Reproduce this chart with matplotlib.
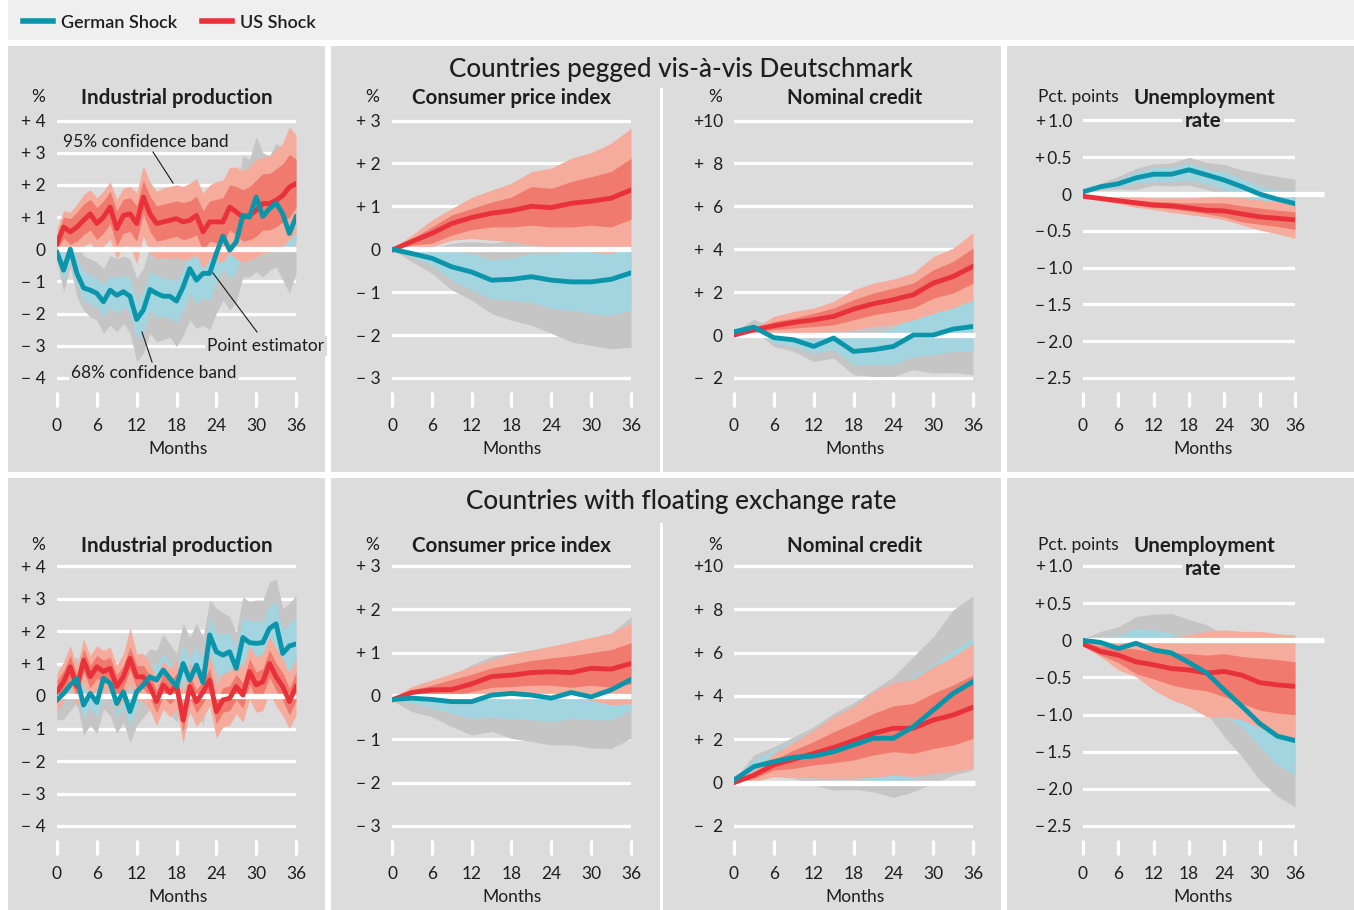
import matplotlib
matplotlib.use("Agg")
import matplotlib.pyplot as plt
from matplotlib.patches import Rectangle
from matplotlib.lines import Line2D

# ---------------- data ----------------
months_m = list(range(37))          # monthly sampling (industrial production)
months_q = list(range(0, 37, 3))    # every third month (smooth series)
xticks = [0, 6, 12, 18, 24, 30, 36]

# --- Pegged: Industrial production ---
de_ip_peg = [-0.1,-0.65,0.0,-0.75,-1.2,-1.27,-1.37,-1.63,-1.27,-1.43,-1.32,-1.46,-2.18,-1.89,-1.25,-1.37,-1.46,-1.46,-1.61,-1.17,-0.6,-0.96,-0.75,-0.75,-0.13,0.41,-0.03,0.23,1.05,1.0,1.62,1.02,1.26,1.44,1.1,0.49,1.0]
de_ip_peg_68hi = [0.3,-0.2,0.4,-0.3,-0.7,-0.8,-0.9,-1.1,-0.8,-0.9,-0.8,-0.9,-1.6,-1.3,-0.7,-0.8,-0.9,-0.9,-1.0,-0.6,0.0,-0.3,-0.1,-0.1,0.6,1.1,0.7,1.0,1.8,1.7,2.4,1.8,2.0,2.2,1.9,1.3,1.8]
de_ip_peg_68lo = [-0.3,-1.0,-0.3,-1.1,-1.6,-1.7,-1.8,-2.1,-1.8,-2.0,-1.8,-2.0,-2.8,-2.6,-1.9,-2.1,-2.1,-2.1,-2.3,-1.9,-1.4,-1.7,-1.5,-1.6,-1.0,-0.6,-0.9,-0.7,0.1,0.1,0.5,0.1,0.3,0.4,0.2,-0.1,0.3]
de_ip_peg_95hi = [0.4,0.3,0.8,0.2,-0.2,-0.3,-0.4,-0.6,-0.2,-0.3,-0.2,-0.3,-0.9,-0.6,0.1,0.0,-0.1,-0.1,-0.2,0.3,1.0,0.6,0.9,0.9,1.5,2.0,1.6,1.9,2.9,2.8,3.5,3.0,2.9,3.3,3.1,2.4,2.8]
de_ip_peg_95lo = [-0.4,-1.32,-0.55,-1.48,-1.89,-2.1,-2.2,-2.61,-2.36,-2.56,-2.3,-2.61,-3.49,-3.23,-2.61,-2.87,-2.82,-2.72,-3.03,-2.67,-2.2,-2.46,-2.36,-2.51,-1.99,-1.58,-1.89,-1.63,-0.86,-0.86,-0.7,-0.86,-0.65,-0.55,-0.96,-1.37,-0.75]
us_ip_peg = [0.18,0.69,0.54,0.69,0.9,1.1,0.8,1.0,1.31,0.64,1.05,1.1,0.8,1.62,1.1,0.8,0.85,0.9,0.95,0.85,0.9,1.05,0.54,0.85,0.85,0.85,1.31,1.16,1.0,1.05,1.21,1.42,1.42,1.52,1.67,1.93,2.04]
us_ip_peg_68hi = [0.45,1.0,0.95,1.15,1.4,1.55,1.3,1.5,1.8,1.2,1.55,1.6,1.35,2.15,1.65,1.35,1.4,1.45,1.5,1.45,1.5,1.65,1.2,1.5,1.55,1.6,2.0,1.95,1.85,1.95,2.15,2.35,2.35,2.5,2.65,2.95,2.8]
us_ip_peg_68lo = [0.0,0.35,0.15,0.25,0.45,0.6,0.3,0.5,0.8,0.1,0.5,0.55,0.25,1.1,0.55,0.25,0.3,0.35,0.4,0.3,0.35,0.45,-0.05,0.25,0.2,0.2,0.6,0.45,0.25,0.3,0.4,0.6,0.6,0.7,0.85,1.0,1.3]
us_ip_peg_95hi = [0.65,1.2,1.15,1.4,1.7,1.85,1.6,1.8,2.1,1.55,1.9,1.95,1.75,2.6,2.1,1.8,1.9,1.95,2.0,1.95,2.05,2.2,1.75,2.0,2.1,2.15,2.55,2.55,2.45,2.55,2.8,2.85,2.9,3.1,3.3,3.8,3.55]
us_ip_peg_95lo = [-0.15,0.1,-0.1,0.0,0.1,0.2,-0.1,0.1,0.3,-0.3,0.1,0.1,-0.45,0.4,-0.1,-0.3,-0.25,-0.3,-0.25,-0.35,-0.3,-0.15,-0.6,-0.3,-0.35,-0.4,-0.1,-0.3,-0.4,-0.35,-0.25,-0.1,-0.1,0.0,0.1,0.3,0.5]

# --- Pegged: Consumer price index ---
de_cpi_peg = [0.0,-0.1,-0.21,-0.41,-0.53,-0.72,-0.7,-0.64,-0.72,-0.76,-0.76,-0.7,-0.55]
de_cpi_peg_68hi = [0.0,-0.02,-0.05,-0.06,-0.1,-0.25,-0.21,-0.1,-0.1,-0.06,-0.05,-0.05,0.06]
de_cpi_peg_68lo = [0.0,-0.18,-0.37,-0.72,-0.95,-1.15,-1.19,-1.23,-1.38,-1.42,-1.5,-1.54,-1.42]
de_cpi_peg_95hi = [0.0,0.0,0.02,0.14,0.18,0.14,0.21,0.1,0.08,0.06,0.05,0.05,0.1]
de_cpi_peg_95lo = [0.0,-0.29,-0.56,-0.95,-1.19,-1.5,-1.65,-1.77,-1.96,-2.16,-2.24,-2.32,-2.28]
us_cpi_peg = [-0.02,0.18,0.37,0.6,0.74,0.84,0.9,1.0,0.97,1.07,1.12,1.19,1.38]
us_cpi_peg_68hi = [0.0,0.25,0.52,0.8,0.95,1.1,1.22,1.46,1.42,1.58,1.69,1.81,2.12]
us_cpi_peg_68lo = [-0.04,0.1,0.14,0.33,0.46,0.52,0.52,0.56,0.52,0.52,0.56,0.52,0.7]
us_cpi_peg_95hi = [0.02,0.33,0.68,0.95,1.21,1.38,1.54,1.81,1.89,2.12,2.25,2.47,2.82]
us_cpi_peg_95lo = [-0.06,0.06,0.06,0.21,0.25,0.21,0.18,0.1,0.06,0.02,-0.06,-0.1,0.06]

# --- Pegged: Nominal credit ---
de_cr_peg = [0.15,0.37,-0.12,-0.22,-0.53,-0.14,-0.76,-0.68,-0.53,0.0,0.0,0.28,0.4]
de_cr_peg_68hi = [0.15,0.45,0.1,0.0,-0.2,0.05,-0.1,0.1,0.3,0.95,1.1,1.3,1.6]
de_cr_peg_68lo = [0.12,0.3,-0.37,-0.53,-0.84,-0.68,-1.38,-1.38,-1.38,-1.0,-0.92,-0.76,-0.76]
de_cr_peg_95hi = [0.15,0.75,0.3,0.3,0.2,0.4,0.3,0.4,0.56,1.02,1.18,1.4,1.72]
de_cr_peg_95lo = [0.1,0.25,-0.53,-0.76,-1.23,-1.07,-1.85,-1.93,-1.93,-1.61,-1.77,-1.74,-1.85]
us_cr_peg = [0.0,0.25,0.43,0.59,0.71,0.87,1.21,1.46,1.65,1.88,2.42,2.73,3.2]
us_cr_peg_68hi = [0.02,0.3,0.64,0.79,1.02,1.26,1.65,1.96,2.19,2.42,3.04,3.43,4.05]
us_cr_peg_68lo = [-0.02,0.15,0.25,0.33,0.4,0.48,0.71,0.95,1.1,1.26,1.72,1.96,2.42]
us_cr_peg_95hi = [0.02,0.33,0.87,1.1,1.26,1.57,2.11,2.42,2.61,2.89,3.66,4.05,4.78]
us_cr_peg_95lo = [-0.05,-0.1,0.1,0.1,0.12,0.17,0.25,0.4,0.48,0.71,1.02,1.26,1.65]

# --- Pegged: Unemployment rate ---
de_un_peg = [0.03,0.1,0.14,0.22,0.27,0.27,0.33,0.26,0.19,0.1,0.0,-0.07,-0.13]
de_un_peg_68hi = [0.03,0.12,0.19,0.3,0.36,0.36,0.42,0.34,0.3,0.21,0.11,0.06,0.03]
de_un_peg_68lo = [0.03,0.07,0.1,0.15,0.17,0.17,0.19,0.15,0.06,-0.03,-0.1,-0.15,-0.19]
de_un_peg_95hi = [0.03,0.15,0.24,0.35,0.41,0.42,0.5,0.43,0.4,0.33,0.28,0.24,0.2]
de_un_peg_95lo = [0.03,0.05,0.07,0.06,0.12,0.11,0.12,0.06,-0.01,-0.08,-0.15,-0.2,-0.24]
us_un_peg = [-0.03,-0.06,-0.09,-0.12,-0.15,-0.16,-0.19,-0.22,-0.23,-0.27,-0.31,-0.33,-0.35]
us_un_peg_68hi = [-0.01,-0.03,-0.06,-0.08,-0.1,-0.11,-0.12,-0.12,-0.12,-0.16,-0.19,-0.22,-0.24]
us_un_peg_68lo = [-0.04,-0.08,-0.11,-0.15,-0.18,-0.2,-0.23,-0.27,-0.31,-0.38,-0.41,-0.44,-0.48]
us_un_peg_95hi = [0.0,-0.01,-0.03,-0.04,-0.05,-0.05,-0.05,-0.04,-0.03,-0.05,-0.08,-0.1,-0.13]
us_un_peg_95lo = [-0.05,-0.09,-0.13,-0.18,-0.21,-0.25,-0.28,-0.31,-0.35,-0.42,-0.49,-0.54,-0.6]

# --- Floating: Industrial production ---
de_ip_flt = [-0.12,0.08,0.34,0.54,-0.28,0.08,-0.2,0.54,0.39,-0.23,0.13,-0.48,0.13,0.34,0.59,0.49,0.8,0.54,0.29,1.0,0.49,0.95,0.41,1.88,1.36,1.26,1.36,0.85,1.8,1.64,1.62,1.64,2.08,2.22,1.31,1.54,1.6]
de_ip_flt_68hi = [0.15,0.4,0.7,0.9,0.15,0.45,0.2,0.9,0.8,0.15,0.5,0.0,0.5,0.75,1.0,0.95,1.3,1.05,0.8,1.6,1.1,1.55,1.05,2.45,1.95,1.9,1.95,1.45,2.45,2.3,2.3,2.3,2.8,2.9,2.0,2.25,2.4]
de_ip_flt_68lo = [-0.4,-0.3,0.0,0.2,-0.7,-0.35,-0.65,0.1,0.0,-0.65,-0.3,-0.95,-0.3,-0.1,0.2,0.05,0.35,0.05,-0.25,0.4,-0.1,0.35,-0.3,1.3,0.75,0.6,0.75,0.2,1.15,1.0,0.95,1.0,1.4,1.55,0.6,0.8,0.85]
de_ip_flt_95hi = [0.6,0.7,1.1,1.2,0.6,0.8,0.6,1.3,1.2,0.6,1.0,0.5,1.0,1.2,1.45,1.4,1.9,1.6,1.3,2.25,1.8,2.25,1.8,2.95,2.7,2.55,2.45,1.95,3.05,2.9,2.95,2.95,3.5,3.6,2.7,2.85,3.1]
de_ip_flt_95lo = [-0.74,-0.7,-0.45,-0.2,-1.2,-0.9,-1.15,-0.4,-0.6,-1.15,-0.8,-1.44,-0.9,-0.65,-0.4,-0.5,-0.3,-0.55,-0.8,-0.2,-0.6,-0.3,-0.9,0.5,0.0,-0.1,0.0,-0.5,0.4,0.3,0.2,0.2,0.6,0.8,-0.1,0.1,0.1]
us_ip_flt = [0.13,0.44,0.9,0.29,1.1,0.59,0.9,0.75,0.85,0.29,0.59,1.16,0.59,0.59,0.29,-0.17,0.34,0.1,0.34,-0.74,0.29,-0.17,0.13,0.49,-0.48,-0.12,-0.07,0.29,0.03,0.75,0.34,0.44,1.0,0.59,0.29,-0.17,0.29]
us_ip_flt_68hi = [0.48,0.79,1.25,0.64,1.45,0.94,1.25,1.1,1.2,0.64,0.94,1.51,0.94,0.94,0.64,0.18,0.69,0.45,0.69,-0.39,0.64,0.18,0.48,0.84,-0.1,0.26,0.31,0.67,0.41,1.15,0.74,0.84,1.42,1.01,0.71,0.25,0.73]
us_ip_flt_68lo = [-0.22,0.09,0.55,-0.06,0.75,0.24,0.55,0.4,0.5,-0.06,0.24,0.81,0.24,0.24,-0.06,-0.52,-0.01,-0.25,-0.01,-1.09,-0.06,-0.52,-0.22,0.11,-0.86,-0.5,-0.45,-0.11,-0.37,0.35,-0.06,0.04,0.58,0.17,-0.13,-0.59,-0.15]
us_ip_flt_95hi = [0.7,1.05,1.55,0.9,1.75,1.25,1.55,1.4,1.5,0.95,1.3,2.1,1.3,1.3,1.0,0.55,1.1,0.85,1.1,0.05,1.05,0.6,0.9,1.3,0.35,0.7,0.75,1.1,0.85,1.55,1.2,1.3,1.85,1.45,1.15,0.7,1.15]
us_ip_flt_95lo = [-0.45,-0.2,0.25,-0.35,0.45,-0.1,0.2,0.05,0.15,-0.4,-0.15,0.4,-0.15,-0.15,-0.45,-0.9,-0.4,-0.65,-0.4,-1.45,-0.45,-0.95,-0.65,-0.3,-1.3,-0.95,-0.9,-0.55,-0.8,-0.1,-0.5,-0.45,0.1,-0.3,-0.6,-1.0,-0.6]

# --- Floating: Consumer price index ---
de_cpi_flt = [-0.08,-0.05,-0.08,-0.13,-0.13,0.02,0.06,0.02,-0.05,0.08,-0.02,0.14,0.38]
de_cpi_flt_68hi = [-0.05,0.05,0.1,0.15,0.2,0.4,0.5,0.5,0.45,0.6,0.5,0.7,1.0]
de_cpi_flt_68lo = [-0.1,-0.15,-0.28,-0.4,-0.52,-0.48,-0.52,-0.55,-0.59,-0.52,-0.55,-0.55,-0.32]
de_cpi_flt_95hi = [-0.05,0.18,0.33,0.48,0.72,0.92,1.0,1.06,1.15,1.25,1.35,1.45,1.83]
de_cpi_flt_95lo = [-0.1,-0.36,-0.48,-0.71,-0.9,-0.82,-0.98,-1.05,-1.13,-1.13,-1.2,-1.21,-0.98]
us_cpi_flt = [-0.09,0.08,0.14,0.15,0.28,0.45,0.48,0.54,0.56,0.54,0.64,0.62,0.75]
us_cpi_flt_68hi = [-0.06,0.14,0.25,0.38,0.5,0.65,0.73,0.82,0.88,0.93,1.0,1.07,1.23]
us_cpi_flt_68lo = [-0.11,0.03,0.05,0.0,0.1,0.2,0.22,0.25,0.25,0.2,0.25,0.2,0.28]
us_cpi_flt_95hi = [-0.04,0.22,0.37,0.52,0.68,0.83,0.98,1.06,1.15,1.25,1.35,1.45,1.69]
us_cpi_flt_95lo = [-0.12,-0.1,-0.05,-0.02,0.0,0.03,0.02,0.0,-0.03,-0.05,-0.1,-0.2,-0.18]

# --- Floating: Nominal credit ---
de_cr_flt = [0.12,0.74,0.97,1.17,1.23,1.43,1.74,2.05,2.05,2.58,3.35,4.12,4.66]
de_cr_flt_68hi = [0.15,1.05,1.51,1.97,2.43,2.97,3.51,4.05,4.43,4.89,5.45,6.1,6.66]
de_cr_flt_68lo = [0.1,0.4,0.5,0.5,0.4,0.3,0.2,0.1,0.0,0.2,0.5,0.9,1.2]
de_cr_flt_95hi = [0.15,1.28,1.66,2.12,2.58,3.2,3.69,4.28,4.89,5.82,6.74,7.97,8.62]
de_cr_flt_95lo = [0.05,0.35,0.28,0.2,-0.11,-0.34,-0.31,-0.42,-0.68,-0.42,-0.03,0.35,0.58]
us_cr_flt = [0.0,0.35,0.82,1.08,1.35,1.62,1.94,2.28,2.51,2.51,2.89,3.12,3.48]
us_cr_flt_68hi = [0.02,0.45,1.05,1.51,1.89,2.35,2.74,3.2,3.54,3.66,4.12,4.51,4.97]
us_cr_flt_68lo = [-0.02,0.2,0.58,0.66,0.82,0.92,1.05,1.28,1.43,1.35,1.58,1.74,2.05]
us_cr_flt_95hi = [0.03,0.6,1.35,1.89,2.43,3.05,3.51,4.2,4.62,4.77,5.35,5.82,6.43]
us_cr_flt_95lo = [-0.03,0.05,0.28,0.25,0.23,0.2,0.2,0.25,0.35,0.28,0.43,0.51,0.66]

# --- Floating: Unemployment rate ---
de_un_flt = [0.0,-0.03,-0.11,-0.04,-0.13,-0.17,-0.3,-0.44,-0.67,-0.89,-1.12,-1.29,-1.35]
de_un_flt_68hi = [0.0,0.04,0.06,0.16,0.14,0.1,0.0,-0.1,-0.45,-0.65,-0.85,-1.0,-0.95]
de_un_flt_68lo = [-0.03,-0.08,-0.18,-0.15,-0.3,-0.35,-0.55,-0.8,-1.03,-1.16,-1.43,-1.68,-1.81]
de_un_flt_95hi = [0.02,0.12,0.18,0.32,0.35,0.36,0.28,0.21,0.07,-0.1,-0.3,-0.5,-0.5]
de_un_flt_95lo = [-0.05,-0.12,-0.25,-0.3,-0.45,-0.55,-0.75,-0.98,-1.3,-1.57,-1.88,-2.1,-2.24]
us_un_flt = [-0.05,-0.15,-0.2,-0.29,-0.33,-0.38,-0.4,-0.44,-0.42,-0.47,-0.57,-0.6,-0.62]
us_un_flt_68hi = [-0.03,-0.08,-0.1,-0.12,-0.15,-0.17,-0.18,-0.2,-0.18,-0.22,-0.24,-0.26,-0.29]
us_un_flt_68lo = [-0.07,-0.2,-0.3,-0.45,-0.52,-0.6,-0.65,-0.68,-0.76,-0.85,-0.94,-0.98,-1.0]
us_un_flt_95hi = [-0.02,-0.02,0.0,0.02,0.03,0.05,0.07,0.12,0.14,0.12,0.12,0.09,0.07]
us_un_flt_95lo = [-0.08,-0.22,-0.4,-0.49,-0.67,-0.8,-0.89,-1.03,-1.03,-1.07,-1.18,-1.25,-1.32]

# y-axis ticks / labels per variable
ip_ticks = [-4, -3, -2, -1, 0, 1, 2, 3, 4]
ip_labels = ["\u2212 4", "\u2212 3", "\u2212 2", "\u2212 1", "0", "+ 1", "+ 2", "+ 3", "+ 4"]
cpi_ticks = [-3, -2, -1, 0, 1, 2, 3]
cpi_labels = ["\u2212 3", "\u2212 2", "\u2212 1", "0", "+ 1", "+ 2", "+ 3"]
cr_ticks = [-2, 0, 2, 4, 6, 8, 10]
cr_labels = ["\u2212  2", "0", "+  2", "+  4", "+  6", "+  8", "+10"]
un_ticks = [-2.5, -2.0, -1.5, -1.0, -0.5, 0, 0.5, 1.0]
un_labels = ["\u2212\u20092.5", "\u2212\u20092.0", "\u2212\u20091.5", "\u2212\u20091.0",
             "\u2212\u20090.5", "0", "+\u20090.5", "+\u20091.0"]

# ---------------- style ----------------
FONT = ["Lato", "DejaVu Sans"]
plt.rcParams["font.family"] = FONT
TXT = "#1e1e1e"
PANEL = "#dcdcdc"
TEAL = "#0a95aa"
RED = "#e8313b"
TEAL68 = "#a3d5e0"
GRAY95 = "#c5c5c5"
RED68 = "#ef7a6d"
RED95 = "#f5ac9c"
FS = 12.5

W, H = 1354, 910
fig = plt.figure(figsize=(W / 100, H / 100), dpi=100)
fig.patch.set_facecolor("white")


def fx(x):
    return x / W


def fy(y):
    return 1 - y / H


def rect(x0, y0, x1, y1, color, z=-10):
    fig.add_artist(Rectangle((fx(x0), fy(y1)), (x1 - x0) / W, (y1 - y0) / H,
                             transform=fig.transFigure, facecolor=color,
                             edgecolor="none", zorder=z))


def ftext(x, y, s, **kw):
    kw.setdefault("color", TXT)
    return fig.text(fx(x), fy(y + 2), s, **kw)


# legend bar & panel backgrounds
rect(8, 0, 1354, 40, "#efefef")
for (ya, yb) in [(46, 472), (478, 910)]:
    rect(8, ya, 325, yb, PANEL)
    rect(331, ya, 1001, yb, PANEL)
    rect(1007, ya, 1354, yb, PANEL)
# white separator inside the middle panels
rect(660, 88, 663, 472, "white", z=-9)
rect(660, 523, 663, 910, "white", z=-9)

# legend
fig.add_artist(Line2D([fx(23), fx(53)], [fy(21), fy(21)], color=TEAL, lw=4,
                      transform=fig.transFigure))
ftext(61, 21, "German Shock", fontsize=13, fontweight="semibold", va="center", ha="left")
fig.add_artist(Line2D([fx(202), fx(232)], [fy(21), fy(21)], color=RED, lw=4,
                      transform=fig.transFigure))
ftext(240, 21, "US Shock", fontsize=13, fontweight="semibold", va="center", ha="left")

# headers
ftext(681, 67, "Countries pegged vis-\u00e0-vis Deutschmark", fontsize=18.8,
      ha="center", va="center", fontweight="medium")
ftext(681, 500, "Countries with floating exchange rate", fontsize=18.8,
      ha="center", va="center", fontweight="medium")

# panel geometry (pixels)
cols = [(57, 296), (392, 631), (734, 973), (1083, 1295)]
rows = [dict(gtop=120.5, gbot=378, title=96),
        dict(gtop=566, gbot=826, title=544)]

variables = [
    dict(ticks=ip_ticks, labels=ip_labels, title="Industrial production", unit="%", unit_x=38,
         title_x=177, zero_end=36, months_x=178),
    dict(ticks=cpi_ticks, labels=cpi_labels, title="Consumer price index", unit="%", unit_x=372,
         title_x=512, zero_end=36, months_x=512),
    dict(ticks=cr_ticks, labels=cr_labels, title="Nominal credit", unit="%", unit_x=715,
         title_x=855, zero_end=36.3, months_x=855),
    dict(ticks=un_ticks, labels=un_labels, title=None, unit="Pct. points", unit_x=1078,
         title_x=1204, zero_end=41.0, months_x=1203),
]

series = [
    [  # pegged
        (months_m, de_ip_peg, de_ip_peg_68lo, de_ip_peg_68hi, de_ip_peg_95lo, de_ip_peg_95hi,
         us_ip_peg, us_ip_peg_68lo, us_ip_peg_68hi, us_ip_peg_95lo, us_ip_peg_95hi),
        (months_q, de_cpi_peg, de_cpi_peg_68lo, de_cpi_peg_68hi, de_cpi_peg_95lo, de_cpi_peg_95hi,
         us_cpi_peg, us_cpi_peg_68lo, us_cpi_peg_68hi, us_cpi_peg_95lo, us_cpi_peg_95hi),
        (months_q, de_cr_peg, de_cr_peg_68lo, de_cr_peg_68hi, de_cr_peg_95lo, de_cr_peg_95hi,
         us_cr_peg, us_cr_peg_68lo, us_cr_peg_68hi, us_cr_peg_95lo, us_cr_peg_95hi),
        (months_q, de_un_peg, de_un_peg_68lo, de_un_peg_68hi, de_un_peg_95lo, de_un_peg_95hi,
         us_un_peg, us_un_peg_68lo, us_un_peg_68hi, us_un_peg_95lo, us_un_peg_95hi),
    ],
    [  # floating
        (months_m, de_ip_flt, de_ip_flt_68lo, de_ip_flt_68hi, de_ip_flt_95lo, de_ip_flt_95hi,
         us_ip_flt, us_ip_flt_68lo, us_ip_flt_68hi, us_ip_flt_95lo, us_ip_flt_95hi),
        (months_q, de_cpi_flt, de_cpi_flt_68lo, de_cpi_flt_68hi, de_cpi_flt_95lo, de_cpi_flt_95hi,
         us_cpi_flt, us_cpi_flt_68lo, us_cpi_flt_68hi, us_cpi_flt_95lo, us_cpi_flt_95hi),
        (months_q, de_cr_flt, de_cr_flt_68lo, de_cr_flt_68hi, de_cr_flt_95lo, de_cr_flt_95hi,
         us_cr_flt, us_cr_flt_68lo, us_cr_flt_68hi, us_cr_flt_95lo, us_cr_flt_95hi),
        (months_q, de_un_flt, de_un_flt_68lo, de_un_flt_68hi, de_un_flt_95lo, de_un_flt_95hi,
         us_un_flt, us_un_flt_68lo, us_un_flt_68hi, us_un_flt_95lo, us_un_flt_95hi),
    ],
]

for r, row in enumerate(rows):
    for c, (x0, x1) in enumerate(cols):
        var = variables[c]
        ticks = var["ticks"]
        vmin, vmax = min(ticks), max(ticks)
        scale = (row["gbot"] - row["gtop"]) / (vmax - vmin)
        ax_top = row["gtop"] - 10
        ax_bot = row["gbot"] + 14
        ylim = (vmin - 14 / scale, vmax + 10 / scale)
        ax = fig.add_axes([fx(x0), fy(ax_bot), (x1 - x0) / W, (ax_bot - ax_top) / H])
        ax.set_facecolor("none")
        for s in ax.spines.values():
            s.set_visible(False)
        ax.set_xlim(0, 36)
        ax.set_ylim(*ylim)

        for t in ticks:
            if t != 0:
                ax.axhline(t, color="white", lw=2.3, zorder=0.5)

        (x, de, de68lo, de68hi, de95lo, de95hi, us, us68lo, us68hi, us95lo, us95hi) = series[r][c]
        ax.fill_between(x, de95lo, de95hi, color=GRAY95, lw=0, zorder=1.0)
        ax.fill_between(x, de68lo, de68hi, color=TEAL68, lw=0, zorder=1.1)
        ax.fill_between(x, us95lo, us95hi, color=RED95, lw=0, zorder=1.2)
        ax.fill_between(x, us68lo, us68hi, color=RED68, lw=0, zorder=1.3)
        ax.plot([0, var["zero_end"]], [0, 0], color="white", lw=3.8, zorder=2,
                clip_on=False, solid_capstyle="butt")
        ax.plot(x, us, color=RED, lw=3.5, zorder=3, solid_joinstyle="round")
        ax.plot(x, de, color=TEAL, lw=3.5, zorder=3.1, solid_joinstyle="round")

        ax.set_yticks(ticks)
        ax.set_yticklabels(var["labels"])
        ax.tick_params(axis="y", length=0, pad=8, labelsize=FS, labelcolor=TXT)
        ax.set_xticks(xticks)
        ax.set_xticklabels([str(t) for t in xticks])
        ax.tick_params(axis="x", length=10.8, width=2.3, color="white", direction="out",
                       pad=8, labelsize=FS, labelcolor=TXT)
        # "Months" label: centre ~57 px below the axes bottom
        ax.set_xlabel("Months", fontsize=FS, color=TXT)
        ax.xaxis.set_label_coords((var["months_x"] - x0) / (x1 - x0), -57 / (ax_bot - ax_top))
        ax.xaxis.label.set_verticalalignment("center")

        # unit label and subtitle
        ftext(var["unit_x"], row["title"] - 1, var["unit"], fontsize=FS, ha="center", va="center")
        if var["title"]:
            ftext(var["title_x"], row["title"], var["title"], fontsize=14.8, fontweight="bold",
                  ha="center", va="center")
        else:
            ftext(var["title_x"], row["title"], "Unemployment", fontsize=14.8, fontweight="bold",
                  ha="center", va="center")
            ftext(1203, row["title"] + 23, "rate", fontsize=14.8, fontweight="bold",
                  ha="center", va="center",
                  bbox=dict(facecolor=PANEL, edgecolor="none", pad=2))

# annotations in the first panel
ann_bbox = dict(facecolor=PANEL, edgecolor="none", pad=1.5)
ftext(146, 140, "95% confidence band", fontsize=FS, ha="center", va="center", bbox=ann_bbox)
ftext(266, 344, "Point estimator", fontsize=FS, ha="center", va="center", bbox=ann_bbox)
ftext(154, 371, "68% confidence band", fontsize=FS, ha="center", va="center", bbox=ann_bbox)
for (xa, ya, xb, yb) in [(153, 152, 173, 183), (213, 273, 257, 332), (142, 332, 152, 362)]:
    fig.add_artist(Line2D([fx(xa), fx(xb)], [fy(ya), fy(yb)], color="#1a1a1a", lw=0.8,
                          transform=fig.transFigure, zorder=10))

fig.savefig("out.png", dpi=100, facecolor="white")
